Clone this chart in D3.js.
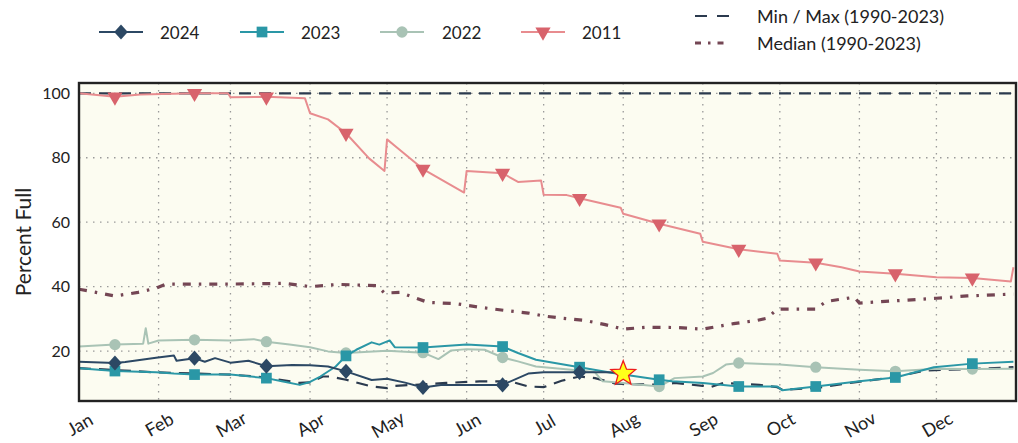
<!DOCTYPE html>
<html><head><meta charset="utf-8">
<script src="https://cdn.jsdelivr.net/npm/d3@7"></script>
<style>
body{margin:0;background:#fff;}
svg text{font-family:Lato,"Open Sans",sans-serif;fill:#222;}
</style></head>
<body><svg id="c" width="1018" height="443"></svg>
<script>
// ---------- data (MM-DD, percent full) ----------
const monthLabels = ["Jan","Feb","Mar","Apr","May","Jun","Jul","Aug","Sep","Oct","Nov","Dec"];
const yTicks = [20,40,60,80,100];

const s2024 = [["01-01",16.7],["01-15",16.3],["01-19",16.6],["01-31",17.9],["02-07",18.6],["02-08",17.0],["02-15",17.8],["02-19",16.7],["02-23",17.8],["03-01",16.4],["03-08",17.0],["03-15",15.3],["03-25",15.7],["04-01",15.6],["04-08",15.2],["04-15",13.7],["04-25",11.0],["05-01",11.4],["05-08",10.2],["05-15",8.7],["05-22",9.5],["06-01",9.5],["06-15",9.5],["06-25",13.0],["07-01",13.4],["07-15",13.4],["07-25",13.4],["08-01",13.3]];

const s2023 = [["01-01",14.7],["01-15",13.8],["01-31",13.4],["02-07",13.0],["02-15",12.7],["03-01",12.7],["03-15",11.6],["03-21",10.6],["03-28",9.5],["04-01",10.4],["04-05",12.1],["04-11",15.2],["04-15",18.5],["04-19",20.4],["04-25",22.7],["04-28",22.0],["05-02",23.3],["05-04",21.2],["05-15",21.1],["06-01",22.0],["06-15",21.4],["06-21",19.4],["06-28",17.3],["07-15",15.0],["07-28",13.2],["08-15",11.1],["08-20",10.6],["09-01",10.1],["09-15",9.0],["09-30",9.0],["10-02",7.8],["10-15",9.0],["11-01",10.6],["11-15",11.8],["11-30",15.0],["12-15",16.1],["12-31",16.7]];

const s2022 = [["01-01",21.4],["01-15",22.0],["01-26",22.3],["01-27",27.1],["01-28",22.3],["02-01",23.3],["02-15",23.5],["03-01",23.3],["03-10",23.7],["03-15",22.9],["03-24",22.0],["04-01",21.2],["04-08",19.9],["04-15",19.4],["05-01",20.1],["05-15",19.5],["05-21",17.5],["05-26",20.2],["06-01",20.6],["06-08",20.4],["06-15",18.0],["06-21",16.8],["06-28",15.2],["07-15",14.0],["07-21",13.4],["07-24",10.6],["08-01",10.1],["08-15",9.0],["08-21",11.6],["09-01",12.1],["09-05",13.2],["09-10",15.8],["09-15",16.3],["10-01",15.8],["10-15",15.0],["11-01",14.2],["11-15",13.7],["12-01",14.5],["12-15",14.4],["12-31",14.5]];

const s2011 = [["01-01",100],["01-15",98.9],["01-25",99.6],["02-15",100],["02-28",100],["03-01",98.8],["03-15",98.9],["03-30",98.5],["04-01",93.8],["04-08",91.9],["04-15",87.6],["04-24",79.8],["04-30",75.9],["05-01",85.7],["05-04",83.7],["05-15",76.5],["05-31",69.2],["06-01",75.9],["06-15",75.2],["06-21",72.5],["06-30",72.9],["07-01",68.5],["07-10",68.4],["07-15",67.4],["07-31",64.5],["08-01",62.6],["08-15",59.5],["08-31",56.4],["09-01",53.9],["09-15",51.6],["09-30",50.2],["10-01",48.1],["10-15",47.4],["10-25",46.0],["11-01",44.7],["11-15",44.0],["12-01",42.9],["12-15",42.7],["12-30",41.6],["12-31",46.0]];

const sMin = [["01-01",14.7],["01-31",13.4],["03-01",12.7],["03-15",11.8],["03-28",10.1],["04-01",10.3],["04-06",12.1],["04-09",12.1],["04-15",11.1],["04-25",9.0],["05-01",8.5],["05-04",9.2],["05-11",9.5],["05-24",10.1],["06-06",10.6],["06-18",10.6],["06-25",9.0],["07-01",8.8],["07-08",10.8],["07-15",12.1],["07-21",11.6],["07-29",9.9],["08-16",9.5],["08-21",10.1],["09-01",9.2],["09-04",8.8],["09-09",10.1],["09-23",9.5],["09-30",8.8],["10-02",8.0],["10-15",8.5],["10-30",10.3],["11-14",11.8],["11-27",14.0],["12-15",14.4],["12-31",15.0]];

const sMax = [["01-01",100],["12-31",100]];

const sMedian = [["01-01",39.2],["01-09",38.0],["01-15",37.1],["01-24",38.2],["01-31",39.5],["02-04",40.8],["03-01",40.8],["03-22",41.0],["04-01",40.0],["04-12",40.7],["04-27",40.3],["04-30",38.0],["05-06",38.2],["05-17",35.1],["05-28",34.7],["06-06",33.6],["06-16",32.6],["06-25",31.8],["07-01",30.9],["07-08",30.2],["07-17",29.5],["07-25",28.2],["08-01",26.8],["08-10",27.4],["08-22",27.3],["09-01",26.8],["09-13",28.5],["09-22",29.5],["09-26",30.2],["09-30",33.0],["10-15",33.0],["10-19",35.4],["10-30",36.7],["11-01",34.9],["11-17",35.7],["12-01",36.4],["12-13",37.1],["12-31",37.7]];

const latest = [["08-01",13.3]];

// ---------- chart ----------
const parse = d3.timeParse("%m-%d"); // year 1900 (non-leap)
const svg = d3.select("#c");
const L=79, R=1016, T=83, B=401;
const x = d3.scaleTime().domain([new Date(1900,0,1), new Date(1901,0,1)]).range([L,R]);
const y = d3.scaleLinear().domain([4.5,103.2]).range([B,T]);
const prep = a => a.map(([d,v]) => ({date:parse(d), v, day:+d.slice(3)}));

svg.append("rect").attr("x",L).attr("y",T).attr("width",R-L).attr("height",B-T).attr("fill","#fcfcf1");

svg.append("clipPath").attr("id","pc").append("rect").attr("x",L).attr("y",T-2).attr("width",R-L+2).attr("height",B-T+2);

// grid
const monthStarts = d3.range(12).map(m => new Date(1900,m,1));
const grid = svg.append("g");
grid.selectAll("line.v").data(monthStarts.slice(1)).join("line")
  .attr("x1",d=>x(d)).attr("x2",d=>x(d)).attr("y1",T).attr("y2",B)
  .attr("stroke","#9a9a9a").attr("stroke-width",1.3).attr("stroke-dasharray","1.5,5.5");
grid.selectAll("line.h").data(yTicks).join("line")
  .attr("x1",L).attr("x2",R).attr("y1",d=>y(d)).attr("y2",d=>y(d))
  .attr("stroke","#9a9a9a").attr("stroke-width",1.3).attr("stroke-dasharray","1.5,5.5");

const line = d3.line().x(d=>x(d.date)).y(d=>y(d.v));
const plot = svg.append("g").attr("clip-path","url(#pc)");

const C = {y2024:"#2c4864", y2023:"#2a97a6", y2022:"#a9c3b5", y2011:"#e88c8f", m2011:"#d8636c", minmax:"#2b3a4e", median:"#744654"};

plot.append("path").datum(prep(sMedian)).attr("d",line).attr("fill","none")
  .attr("stroke",C.median).attr("stroke-width",3.2).attr("stroke-dasharray","8,8,2.5,8");
[sMin,sMax].forEach(s => plot.append("path").datum(prep(s)).attr("d",line).attr("fill","none")
  .attr("stroke",C.minmax).attr("stroke-width",2.2).attr("stroke-dasharray","12,8"));

const wideDiamond = {draw(ctx,size){const w=6.8,h=7.6; ctx.moveTo(0,-h); ctx.lineTo(w,0); ctx.lineTo(0,h); ctx.lineTo(-w,0); ctx.closePath();}};
const sym = {
  diamond: d3.symbol().type(wideDiamond),
  square: d3.symbol().type(d3.symbolSquare).size(115),
  circle: d3.symbol().type(d3.symbolCircle).size(100),
  tri: d3.symbol().type(d3.symbolTriangle).size(100)
};
const series = [
  {data:s2011, color:C.y2011, mcolor:C.m2011, sym:"tri", rot:180},
  {data:s2022, color:C.y2022, mcolor:C.y2022, sym:"circle", rot:0},
  {data:s2023, color:C.y2023, mcolor:C.y2023, sym:"square", rot:0},
  {data:s2024, color:C.y2024, mcolor:C.y2024, sym:"diamond", rot:0}
];
series.forEach(s => {
  const d = prep(s.data);
  plot.append("path").datum(d).attr("d",line).attr("fill","none")
    .attr("stroke",s.color).attr("stroke-width",2).attr("stroke-linejoin","round");
  plot.selectAll(null).data(d.filter(p=>p.day===15)).join("path")
    .attr("d",sym[s.sym]).attr("fill",s.mcolor)
    .attr("transform",p=>`translate(${x(p.date)},${y(p.v)}) rotate(${s.rot})`);
});

// star for latest value
const starType = {draw(ctx,size){const ro=13, ri=5.6; for(let i=0;i<10;i++){const r=i%2?ri:ro; const a=-Math.PI/2+i*Math.PI/5; const px=r*Math.cos(a), py=r*Math.sin(a); i?ctx.lineTo(px,py):ctx.moveTo(px,py);} ctx.closePath();}};
svg.selectAll(null).data(prep(latest)).join("path")
  .attr("d",d3.symbol().type(starType)).attr("fill","#ffff1a").attr("stroke","#ee1c1c").attr("stroke-width",1.3)
  .attr("transform",p=>`translate(${x(p.date)},${y(p.v)+1})`);

// frame
svg.append("rect").attr("x",L).attr("y",T).attr("width",R-L).attr("height",B-T)
  .attr("fill","none").attr("stroke","#222").attr("stroke-width",2.4);

// axes
const xa = svg.append("g").attr("transform",`translate(0,${B})`)
  .call(d3.axisBottom(x).tickValues(monthStarts).tickSize(0).tickFormat((d,i)=>monthLabels[i]));
xa.select(".domain").remove();
xa.selectAll("text").attr("y",0).attr("dy",0).attr("text-anchor","middle").attr("dominant-baseline","central")
  .attr("transform","translate(0,23) rotate(-30)").style("font-size","18px").style("font-family","Lato");

const ya = svg.append("g").attr("transform",`translate(${L},0)`)
  .call(d3.axisLeft(y).tickValues(yTicks).tickSize(0).tickPadding(9));
ya.select(".domain").remove();
ya.selectAll("text").style("font-size","16px").style("font-family","Lato");

svg.append("text").attr("transform",`translate(22,${(T+B)/2}) rotate(-90)`).attr("text-anchor","middle")
  .attr("dominant-baseline","central").style("font-size","21px").text("Percent Full");

// legend
const leg = svg.append("g");
const items = [
  {label:"2024", x0:99, color:C.y2024, mcolor:C.y2024, sym:"diamond", rot:0, tx:160},
  {label:"2023", x0:240, color:C.y2023, mcolor:C.y2023, sym:"square", rot:0, tx:301},
  {label:"2022", x0:380, color:C.y2022, mcolor:C.y2022, sym:"circle", rot:0, tx:442},
  {label:"2011", x0:521, color:C.y2011, mcolor:C.m2011, sym:"tri", rot:180, tx:582}
];
items.forEach(it => {
  leg.append("line").attr("x1",it.x0).attr("x2",it.x0+44).attr("y1",32).attr("y2",32)
    .attr("stroke",it.color).attr("stroke-width",2);
  leg.append("path").attr("d",sym[it.sym]).attr("fill",it.mcolor)
    .attr("transform",`translate(${it.x0+22},32) rotate(${it.rot})`);
  leg.append("text").attr("x",it.tx).attr("y",32).attr("dominant-baseline","central")
    .style("font-size","17px").text(it.label);
});
leg.append("line").attr("x1",695).attr("x2",729).attr("y1",16).attr("y2",16)
  .attr("stroke",C.minmax).attr("stroke-width",2.2).attr("stroke-dasharray","12,10");
leg.append("text").attr("x",757).attr("y",16).attr("dominant-baseline","central").style("font-size","18px").text("Min / Max (1990-2023)");
leg.append("line").attr("x1",695).attr("x2",729).attr("y1",43).attr("y2",43)
  .attr("stroke",C.median).attr("stroke-width",3.2).attr("stroke-dasharray","6,7,2.5,7");
leg.append("text").attr("x",757).attr("y",43).attr("dominant-baseline","central").style("font-size","18px").text("Median (1990-2023)");
</script></body></html>
